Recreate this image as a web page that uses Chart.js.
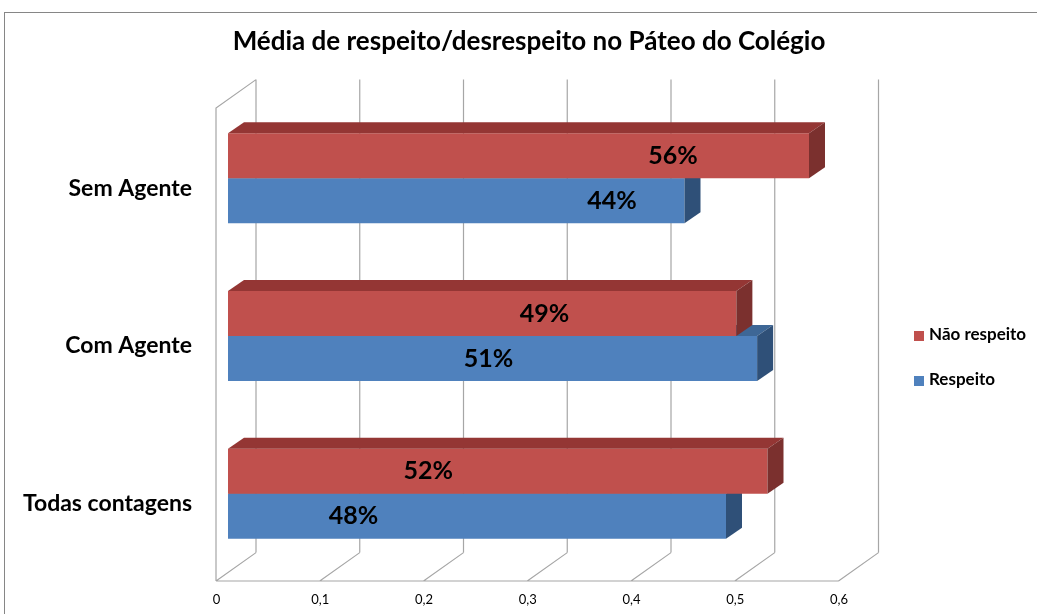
<!DOCTYPE html>
<html>
<head>
<meta charset="utf-8">
<script src="https://cdn.jsdelivr.net/npm/chart.js@4.4.1/dist/chart.umd.min.js"></script>
<style>
  html, body { margin: 0; padding: 0; background: #fff; }
</style>
</head>
<body>
<canvas id="chart" width="1037" height="614"></canvas>
<script>
var categories = ['Sem Agente', 'Com Agente', 'Todas contagens'];
var naoRespeito = [0.56, 0.49, 0.52];
var respeito = [0.44, 0.51, 0.48];
var xTicks = [0, 0.1, 0.2, 0.3, 0.4, 0.5, 0.6];
// where Excel left each value label, in axis units
var naoLabelAt = [0.429, 0.305, 0.193];
var respLabelAt = [0.370, 0.251, 0.121];

var DX = 16, DY = -11;           // bar depth
var FRONT = -12, BACK = 28;      // wall offsets along depth
var SLOPE = -0.71;

var walls3d = {
    id: 'walls3d',
    beforeDraw: function (chart) {
        var ctx = chart.ctx;
        ctx.save();
        ctx.strokeStyle = '#868686';
        ctx.lineWidth = 1;
        ctx.strokeRect(4.5, 12.5, 1100, 700);
        ctx.restore();
    },
    beforeDatasetsDraw: function (chart) {
        var ctx = chart.ctx, a = chart.chartArea, xs = chart.scales.x;
        var fy = FRONT * SLOPE, by = BACK * SLOPE;
        ctx.save();
        ctx.strokeStyle = '#a6a6a6';
        ctx.lineWidth = 1.2;
        ctx.beginPath();
        xTicks.forEach(function (v) {
            var p = xs.getPixelForValue(v);
            ctx.moveTo(p + BACK, a.top + by);
            ctx.lineTo(p + BACK, a.bottom + by);
            ctx.moveTo(p + FRONT, a.bottom + fy);
            ctx.lineTo(p + BACK, a.bottom + by);
        });
        var p0 = xs.getPixelForValue(xTicks[0]);
        var pn = xs.getPixelForValue(xTicks[xTicks.length - 1]);
        ctx.moveTo(p0 + FRONT, a.bottom + fy);
        ctx.lineTo(pn + FRONT, a.bottom + fy);
        ctx.moveTo(p0 + FRONT, a.bottom + fy);
        ctx.lineTo(p0 + FRONT, a.top + fy);
        ctx.lineTo(p0 + BACK, a.top + by);
        ctx.stroke();
        ctx.restore();
    },
    afterDatasetDraw: function (chart, args) {
        var ctx = chart.ctx;
        var ds = chart.data.datasets[args.index];
        ctx.save();
        args.meta.data.forEach(function (bar) {
            var top = bar.y - bar.height / 2, bottom = bar.y + bar.height / 2;
            ctx.fillStyle = ds.topColor;
            ctx.beginPath();
            ctx.moveTo(bar.base, top);
            ctx.lineTo(bar.x, top);
            ctx.lineTo(bar.x + DX, top + DY);
            ctx.lineTo(bar.base + DX, top + DY);
            ctx.closePath();
            ctx.fill();
            ctx.fillStyle = ds.sideColor;
            ctx.beginPath();
            ctx.moveTo(bar.x, top);
            ctx.lineTo(bar.x + DX, top + DY);
            ctx.lineTo(bar.x + DX, bottom + DY);
            ctx.lineTo(bar.x, bottom);
            ctx.closePath();
            ctx.fill();
        });
        ctx.restore();
    },
    afterDraw: function (chart) {
        var ctx = chart.ctx, xs = chart.scales.x;
        ctx.save();
        // value labels
        ctx.font = 'bold 25px Lato';
        ctx.fillStyle = '#000';
        ctx.textAlign = 'center';
        ctx.textBaseline = 'middle';
        chart.data.datasets.forEach(function (ds, i) {
            var meta = chart.getDatasetMeta(i);
            meta.data.forEach(function (bar, j) {
                var txt = Math.round(ds.data[j] * 100) + '%';
                ctx.fillText(txt, xs.getPixelForValue(ds.labelAt[j]), bar.y);
            });
        });
        // legend
        ctx.font = 'bold 17px Lato';
        ctx.textAlign = 'left';
        var ly = 335, step = 45;
        chart.data.datasets.forEach(function (ds, i) {
            var y = ly + i * step;
            ctx.fillStyle = ds.backgroundColor;
            ctx.fillRect(914, y - 4, 10, 10);
            ctx.fillStyle = '#000';
            ctx.fillText(ds.label, 929, y);
        });
        ctx.restore();
    }
};

new Chart(document.getElementById('chart'), {
    type: 'bar',
    data: {
        labels: categories,
        datasets: [{
            label: 'Não respeito',
            data: naoRespeito,
            labelAt: naoLabelAt,
            backgroundColor: '#C0504D',
            topColor: '#943634',
            sideColor: '#7B302E',
            categoryPercentage: 0.5707,
            barPercentage: 1.0
        }, {
            label: 'Respeito',
            data: respeito,
            labelAt: respLabelAt,
            backgroundColor: '#4F81BD',
            topColor: '#3E6796',
            sideColor: '#2F5078',
            categoryPercentage: 0.5707,
            barPercentage: 1.0
        }]
    },
    options: {
        indexAxis: 'y',
        responsive: false,
        animation: false,
        layout: { padding: { left: 21, right: 0, top: 0, bottom: 0 } },
        plugins: {
            legend: { display: false },
            tooltip: { enabled: false },
            title: {
                display: true,
                text: 'Média de respeito/desrespeito no Páteo do Colégio',
                color: '#000',
                font: { family: 'Lato', size: 26, weight: 'bold' },
                padding: { top: 26.4, bottom: 41.9 }
            }
        },
        scales: {
            x: {
                min: 0,
                max: 0.6,
                grid: { display: false, drawTicks: false },
                border: { display: false },
                afterFit: function (scale) { scale.height = 41.5; },
                ticks: {
                    stepSize: 0.1,
                    padding: 20,
                    labelOffset: -11.5,
                    color: '#000',
                    font: { family: 'Lato', size: 13 },
                    callback: function (v) { return v === 0 ? '0' : v.toFixed(1).replace('.', ','); }
                }
            },
            y: {
                grid: { display: false, drawTicks: false },
                border: { display: false },
                afterFit: function (scale) {
                    scale.width = 207;
                    scale.paddingTop = 0;
                    scale.paddingBottom = 0;
                },
                ticks: {
                    padding: 36,
                    labelOffset: 10,
                    color: '#000',
                    font: { family: 'Lato', size: 23, weight: 'bold' }
                }
            },
            yRight: {
                type: 'category',
                position: 'right',
                grid: { display: false, drawTicks: false },
                border: { display: false },
                ticks: { display: false },
                afterFit: function (scale) {
                    scale.width = 186.5;
                    scale.paddingTop = 0;
                    scale.paddingBottom = 0;
                }
            }
        }
    },
    plugins: [walls3d]
});
</script>
</body>
</html>
